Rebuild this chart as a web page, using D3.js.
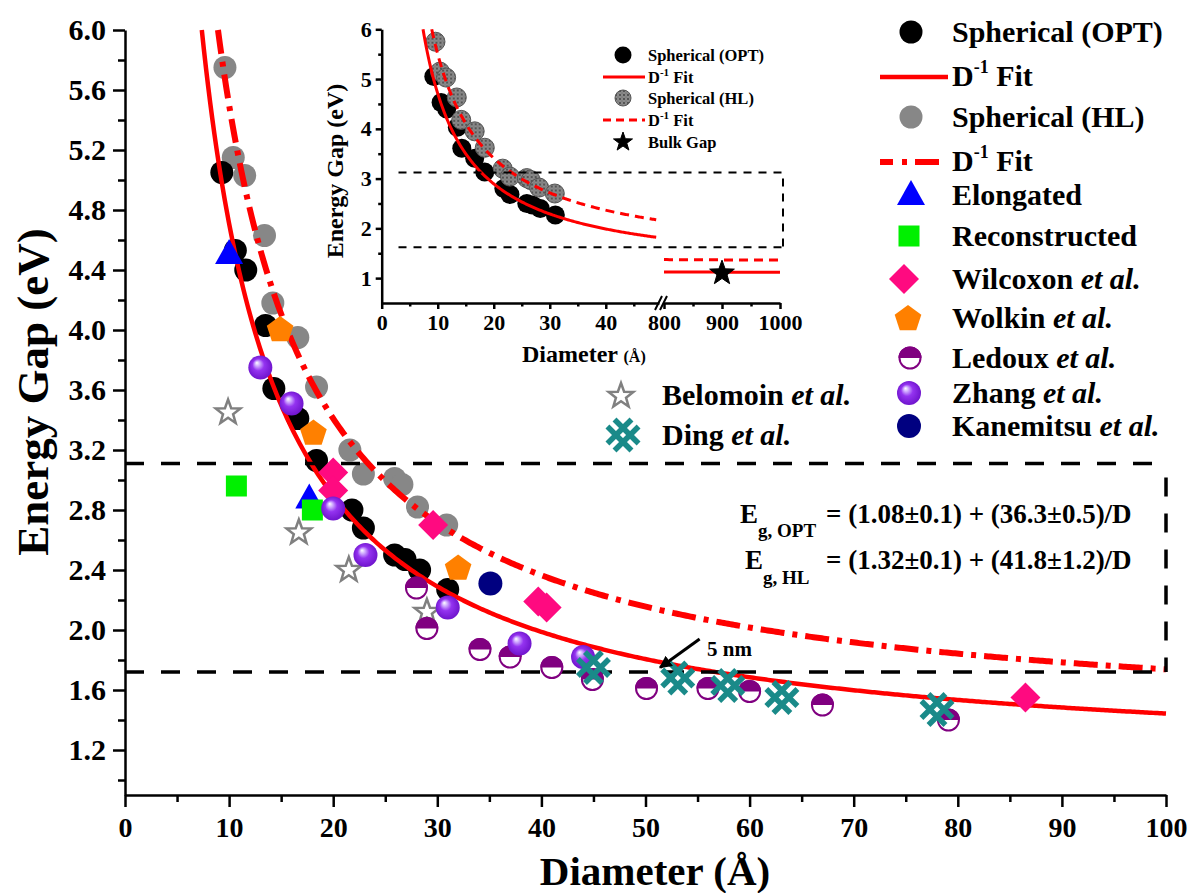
<!DOCTYPE html>
<html><head><meta charset="utf-8">
<script src="https://cdn.jsdelivr.net/npm/d3@7"></script>
<style>
body{margin:0;background:#fff}
text{font-family:"Liberation Serif","Times New Roman",Times,serif;font-weight:bold;fill:#000}
</style>
</head><body>
<svg id="c" width="1199" height="893"></svg>
<script>
// ---------------- DATA ----------------
const optD = [9.3,10.6,11.6,13.5,14.3,16.6,18.4,21.8,22.9,25.9,26.9,28.3,31.0];
const optE = [5.05,4.53,4.40,4.03,3.61,3.41,3.13,2.80,2.68,2.50,2.47,2.40,2.27];
const hlD  = [9.6,10.4,11.5,13.4,14.2,16.6,18.4,21.6,22.9,25.9,26.6,28.1,30.9];
const hlE  = [5.75,5.15,5.03,4.63,4.18,3.95,3.62,3.20,3.04,3.01,2.97,2.82,2.70];
const elongD = [10.0,17.7],  elongE = [4.50,2.87];
const reconD = [10.7,18.0],  reconE = [2.96,2.80];
const wilcD  = [20.0,20.0,29.6,39.7,40.5,86.5], wilcE = [3.05,2.93,2.70,2.19,2.15,1.55];
const wolkD  = [14.9,18.1,32.0], wolkE = [4.00,3.31,2.41];
const ledD   = [28.0,29.0,34.1,37.0,41.0,44.9,50.1,56.0,60.0,67.0,79.1];
const ledE   = [2.28,2.01,1.87,1.82,1.75,1.67,1.61,1.61,1.59,1.50,1.40];
const zhangD = [13.0,16.0,20.0,23.1,31.0,37.9,44.0], zhangE = [3.75,3.51,2.81,2.50,2.15,1.91,1.82];
const kaneD  = [35.1], kaneE = [2.31];
const belD   = [9.9,16.7,21.5,29.0], belE = [3.45,2.65,2.40,2.12];
const dingD  = [45.0,53.1,57.9,63.1,78.0], dingE = [1.75,1.68,1.63,1.55,1.47];
const bulkD  = [900], bulkE = [1.10];
const fitOPT = {a:1.08, b:36.3};   // Eg,OPT = a + b/D
const fitHL  = {a:1.32, b:41.8};   // Eg,HL  = a + b/D
const boxE = [1.72, 3.11];
const insetBoxE = [1.62, 3.12];
const insetBoxD = [3, 1000];
const arrowFrom = [55.2, 1.94], arrowTo = [51.4, 1.75];
const yMajor = [1.2,1.6,2.0,2.4,2.8,3.2,3.6,4.0,4.4,4.8,5.2,5.6,6.0];
const yMinor = [1.0,1.4,1.8,2.2,2.6,3.0,3.4,3.8,4.2,4.6,5.0,5.4,5.8];
const xMajor = [0,10,20,30,40,50,60,70,80,90,100];
const xMinor = [5,15,25,35,45,55,65,75,85,95];
const iyMajor = [1,2,3,4,5,6], iyMinor = [1.5,2.5,3.5,4.5,5.5];
const ixMajorL = [0,10,20,30,40], ixMinorL = [5,15,25,35,45];
const ixMajorR = [800,900,1000], ixMinorR = [850,950];

// ---------------- SETUP ----------------
const svg = d3.select('#c');
const F = '"Liberation Serif","Times New Roman",Times,serif';
const x = d3.scaleLinear().domain([0,100]).range([125,1166]);
const y = d3.scaleLinear().domain([0.9,6.0]).range([795,30]);

const defs = svg.append('defs');
const rg = defs.append('radialGradient').attr('id','ball')
  .attr('cx','50%').attr('cy','50%').attr('r','55%').attr('fx','35%').attr('fy','30%');
[['0%','#ffffff'],['18%','#d2b0ff'],['45%','#9433f0'],['100%','#6a10c8']].forEach(s=>
  rg.append('stop').attr('offset',s[0]).attr('stop-color',s[1]));
const pat = defs.append('pattern').attr('id','speck').attr('width',4).attr('height',4)
  .attr('patternUnits','userSpaceOnUse');
pat.append('rect').attr('width',4).attr('height',4).attr('fill','#8a8a8a');
pat.append('circle').attr('cx',1).attr('cy',1).attr('r',0.9).attr('fill','#3a3a3a');
pat.append('circle').attr('cx',3).attr('cy',3).attr('r',0.6).attr('fill','#626262');
defs.append('marker').attr('id','ah').attr('viewBox','0 0 10 10').attr('refX',9).attr('refY',5)
  .attr('markerWidth',4.2).attr('markerHeight',4.2).attr('orient','auto').attr('markerUnits','strokeWidth')
  .append('path').attr('d','M0,0L10,5L0,10Z').attr('fill','#000');

function styleAxis(g, fs){
  g.attr('font-family',null);
  g.select('path.domain').attr('stroke','#000').attr('stroke-width',2.5);
  g.selectAll('.tick line').attr('stroke','#000').attr('stroke-width',2.5);
  g.selectAll('.tick text').style('font-family',F).style('font-weight','bold')
    .style('font-size',fs+'px').attr('fill','#000');
}

// ---------------- SYMBOLS ----------------
const S = {
  circle:(g,r,fill)=>g.append('circle').attr('r',r).attr('fill',fill),
  speck:(g,r)=>g.append('circle').attr('r',r).attr('fill','url(#speck)').attr('stroke','#555').attr('stroke-width',1),
  tri:(g)=>g.append('path').attr('d','M0,-16L14,9L-14,9Z').attr('fill','#0000ff'),
  square:(g)=>g.append('rect').attr('x',-10.5).attr('y',-10.5).attr('width',21).attr('height',21).attr('fill','#00f000'),
  diamond:(g)=>g.append('path').attr('d','M0,-15L15,0L0,15L-15,0Z').attr('fill','#ff0a80'),
  pent:(g)=>g.append('path').attr('d', d3.range(5).map(k=>{const a=(-90+72*k)*Math.PI/180;return (k?'L':'M')+(14*Math.cos(a)).toFixed(2)+','+(14*Math.sin(a)).toFixed(2);}).join('')+'Z').attr('fill','#ff8000'),
  ledoux:(g)=>{g.append('circle').attr('r',10.5).attr('fill','#fff').attr('stroke','#800080').attr('stroke-width',2);
               g.append('path').attr('d','M-11.5,0A11.5,11.5 0 0 1 11.5,0Z').attr('fill','#800080');},
  zhang:(g)=>g.append('circle').attr('r',12).attr('fill','url(#ball)'),
  star:(g,R,r,fill,stroke,sw)=>g.append('path').attr('d', d3.range(10).map(k=>{const a=(-90+36*k)*Math.PI/180, rr=k%2?r:R;return (k?'L':'M')+(rr*Math.cos(a)).toFixed(2)+','+(rr*Math.sin(a)).toFixed(2);}).join('')+'Z')
      .attr('fill',fill).attr('stroke',stroke).attr('stroke-width',sw).attr('stroke-linejoin','miter'),
  ding:(g)=>{const L=17,d=5,c='#1a8a89';
    [[1,1],[1,-1]].forEach(([ux,uy])=>{const n=Math.SQRT1_2; const dx=ux*n, dy=uy*n; const px=-dy, py=dx;
      [-d,d].forEach(o=>g.append('line').attr('x1',-dx*L+px*o).attr('y1',-dy*L+py*o).attr('x2',dx*L+px*o).attr('y2',dy*L+py*o)
        .attr('stroke',c).attr('stroke-width',5.5));});}
};

function plot(layer, Ds, Es, sx, sy, draw){
  layer.append('g').selectAll('g').data(d3.zip(Ds,Es)).join('g')
    .attr('transform',d=>`translate(${sx(d[0])},${sy(d[1])})`)
    .each(function(){ draw(d3.select(this)); });
}

// ---------------- MAIN AXES ----------------
const gm = svg.append('g');
styleAxis(gm.append('g').attr('transform','translate(125,0)')
  .call(d3.axisLeft(y).tickValues(yMajor).tickSize(12).tickPadding(7).tickSizeOuter(0).tickFormat(d3.format('.1f'))), 30);
styleAxis(gm.append('g').attr('class','minor').attr('transform','translate(125,0)')
  .call(d3.axisLeft(y).tickValues(yMinor).tickSize(7).tickSizeOuter(0).tickFormat('')), 30);
styleAxis(gm.append('g').attr('transform','translate(0,795)')
  .call(d3.axisBottom(x).tickValues(xMajor).tickSize(12).tickPadding(10).tickSizeOuter(0).tickFormat(d3.format('d'))), 28);
styleAxis(gm.append('g').attr('class','minor').attr('transform','translate(0,795)')
  .call(d3.axisBottom(x).tickValues(xMinor).tickSize(7).tickSizeOuter(0).tickFormat('')), 28);
gm.selectAll('g.minor path.domain').remove();

svg.append('text').attr('transform','translate(32,392) rotate(-90)').attr('text-anchor','middle')
  .attr('dy','0.35em').attr('font-size',45).text('Energy Gap (eV)');
svg.append('text').attr('x',655).attr('y',885).attr('text-anchor','middle').attr('font-size',41).text('Diameter (Å)');

// ---------------- MAIN DATA ----------------
const pl = svg.append('g');
plot(pl, hlD, hlE, x, y, g=>S.circle(g,11.5,'#878787'));
plot(pl, optD, optE, x, y, g=>S.circle(g,11.5,'#000'));

function fitPts(f, d0, d1, step){ const start=Math.max(d0, f.b/(6-f.a)); const arr=d3.range(start, d1, step); arr.push(d1); return arr.map(d=>[d, f.a+f.b/d]); }
const lineM = d3.line().x(d=>x(d[0])).y(d=>y(d[1]));
pl.append('path').attr('d',lineM(fitPts(fitOPT,0,100,0.2))).attr('fill','none').attr('stroke','#f00').attr('stroke-width',4.5);
pl.append('path').attr('d',lineM(fitPts(fitHL,0,100,0.2))).attr('fill','none').attr('stroke','#f00').attr('stroke-width',6)
  .attr('stroke-dasharray','24,8,5,8');

// dashed box
const bx = pl.append('g').attr('stroke','#000').attr('stroke-width',3.5).attr('stroke-dasharray','19,17').attr('fill','none');
bx.append('line').attr('x1',x(0)).attr('x2',x(100)).attr('y1',y(boxE[1])).attr('y2',y(boxE[1]));
bx.append('line').attr('x1',x(0)).attr('x2',x(100)).attr('y1',y(boxE[0])).attr('y2',y(boxE[0]));
bx.append('line').attr('x1',x(100)).attr('x2',x(100)).attr('y1',y(boxE[1])+14).attr('y2',y(boxE[0]));

plot(pl, belD, belE, x, y, g=>S.star(g,13,5.3,'#fff','#808080',2.5));
plot(pl, elongD, elongE, x, y, g=>S.tri(g));
plot(pl, reconD, reconE, x, y, g=>S.square(g));
plot(pl, wolkD, wolkE, x, y, g=>S.pent(g));
plot(pl, wilcD, wilcE, x, y, g=>S.diamond(g));
plot(pl, ledD, ledE, x, y, g=>S.ledoux(g));
plot(pl, zhangD, zhangE, x, y, g=>S.zhang(g));
plot(pl, kaneD, kaneE, x, y, g=>S.circle(g,12,'#000080'));
plot(pl, dingD, dingE, x, y, g=>S.ding(g));

// arrow + 5 nm
pl.append('line').attr('x1',x(arrowFrom[0])).attr('y1',y(arrowFrom[1])).attr('x2',x(arrowTo[0])).attr('y2',y(arrowTo[1]))
  .attr('stroke','#000').attr('stroke-width',3).attr('marker-end','url(#ah)');
svg.append('text').attr('x',707).attr('y',656).attr('font-size',21).text('5 nm');

// equations
const eq1 = svg.append('text').attr('x',740).attr('y',523).attr('font-size',27);
eq1.append('tspan').text('E');
eq1.append('tspan').attr('font-size',19).attr('dy',14).text('g, OPT');
eq1.append('tspan').attr('x',826).attr('dy',-14).text('= (1.08±0.1) + (36.3±0.5)/D');
const eq2 = svg.append('text').attr('x',745).attr('y',569).attr('font-size',27);
eq2.append('tspan').text('E');
eq2.append('tspan').attr('font-size',19).attr('dy',15).text('g, HL');
eq2.append('tspan').attr('x',826).attr('dy',-15).text('= (1.32±0.1) + (41.8±1.2)/D');

// ---------------- LEGEND (main) ----------------
const lg = svg.append('g');
const LX = 911, TX = 952, FS = 30;
function legText(yc, parts){
  const t = lg.append('text').attr('x',TX).attr('y',yc+10).attr('font-size',FS);
  parts.forEach(p=>{ const s=t.append('tspan').text(p.t); if(p.i) s.attr('font-style','italic');
    if(p.sup){ s.attr('font-size',18).attr('dy',-13);} if(p.down){ s.attr('dy',13);} });
}
function sub(g,cx,cy){ return g.append('g').attr('transform',`translate(${cx},${cy})`); }
S.circle(sub(lg,LX,32),11.5,'#000'); legText(32,[{t:'Spherical (OPT)'}]);
lg.append('line').attr('x1',880).attr('x2',948).attr('y1',77).attr('y2',77).attr('stroke','#f00').attr('stroke-width',4.5);
legText(76,[{t:'D'},{t:'-1',sup:true},{t:' Fit',down:true}]);
S.circle(sub(lg,LX,117),11.5,'#878787'); legText(117,[{t:'Spherical (HL)'}]);
lg.append('line').attr('x1',880).attr('x2',942).attr('y1',162).attr('y2',162).attr('stroke','#f00').attr('stroke-width',6)
  .attr('stroke-dasharray','13,9,5,8,24');
legText(161,[{t:'D'},{t:'-1',sup:true},{t:' Fit',down:true}]);
S.tri(sub(lg,LX,196)); legText(195,[{t:'Elongated'}]);
S.square(sub(lg,909,236)); legText(236,[{t:'Reconstructed'}]);
S.diamond(sub(lg,904,279)); legText(279,[{t:'Wilcoxon '},{t:'et al.',i:true}]);
S.pent(sub(lg,908,319)); legText(318,[{t:'Wolkin '},{t:'et al.',i:true}]);
S.ledoux(sub(lg,910,358)); legText(358,[{t:'Ledoux '},{t:'et al.',i:true}]);
S.zhang(sub(lg,909,393)); legText(393,[{t:'Zhang '},{t:'et al.',i:true}]);
S.circle(sub(lg,909,426),12,'#000080'); legText(426,[{t:'Kanemitsu '},{t:'et al.',i:true}]);

// second legend
S.star(sub(lg,621,396),13,5.3,'#fff','#808080',2.5);
lg.append('text').attr('x',662).attr('y',405).attr('font-size',FS).call(t=>{t.append('tspan').text('Belomoin ');t.append('tspan').attr('font-style','italic').text('et al.');});
S.ding(sub(lg,623,435));
lg.append('text').attr('x',662).attr('y',445).attr('font-size',FS).call(t=>{t.append('tspan').text('Ding ');t.append('tspan').attr('font-style','italic').text('et al.');});

// ---------------- INSET ----------------
const gi = svg.append('g');
const xi1 = d3.scaleLinear().domain([0,49.5]).range([381.7,659]);
const xi2 = d3.scaleLinear().domain([800,1000]).range([664,780]);
const yi = d3.scaleLinear().domain([0.5,6]).range([303,29.3]);
const fd = d3.format('d');
styleAxis(gi.append('g').attr('transform','translate(381.7,0)')
  .call(d3.axisLeft(yi).tickValues(iyMajor).tickSize(6).tickPadding(4).tickSizeOuter(0).tickFormat(fd)), 22);
styleAxis(gi.append('g').attr('class','minor').attr('transform','translate(381.7,0)')
  .call(d3.axisLeft(yi).tickValues(iyMinor).tickSize(3.5).tickSizeOuter(0).tickFormat('')), 22);
styleAxis(gi.append('g').attr('transform','translate(0,303)')
  .call(d3.axisBottom(xi1).tickValues(ixMajorL).tickSize(6).tickPadding(5).tickSizeOuter(0).tickFormat(fd)), 22);
styleAxis(gi.append('g').attr('class','minor').attr('transform','translate(0,303)')
  .call(d3.axisBottom(xi1).tickValues(ixMinorL).tickSize(3.5).tickSizeOuter(0).tickFormat('')), 22);
styleAxis(gi.append('g').attr('transform','translate(0,303)')
  .call(d3.axisBottom(xi2).tickValues(ixMajorR).tickSize(6).tickPadding(5).tickSizeOuter(0).tickFormat(fd)), 22);
styleAxis(gi.append('g').attr('class','minor').attr('transform','translate(0,303)')
  .call(d3.axisBottom(xi2).tickValues(ixMinorR).tickSize(3.5).tickSizeOuter(0).tickFormat('')), 22);
gi.selectAll('g.minor path.domain').remove();
// axis break marks
gi.append('path').attr('d','M655,310L662,296M660,310L667,296').attr('stroke','#000').attr('stroke-width',2);

gi.append('text').attr('transform','translate(335,171) rotate(-90)').attr('text-anchor','middle').attr('dy','0.35em')
  .attr('font-size',24).text('Energy Gap (eV)');
gi.append('text').attr('x',522).attr('y',362).attr('font-size',24)
  .call(t=>{t.append('tspan').text('Diameter ');t.append('tspan').attr('font-size',16).text('(Å)');});

plot(gi, optD, optE, xi1, yi, g=>S.circle(g,9.5,'#000'));
plot(gi, hlD, hlE, xi1, yi, g=>S.speck(g,9.5));
const lineL = d3.line().x(d=>xi1(d[0])).y(d=>yi(d[1]));
const lineR = d3.line().x(d=>xi2(d[0])).y(d=>yi(d[1]));
gi.append('path').attr('d',lineL(fitPts(fitOPT,0,49,0.2))).attr('fill','none').attr('stroke','#f00').attr('stroke-width',3);
gi.append('path').attr('d',lineL(fitPts(fitHL,0,49,0.2))).attr('fill','none').attr('stroke','#f00').attr('stroke-width',3).attr('stroke-dasharray','9,6');
gi.append('path').attr('d',lineR(fitPts(fitOPT,800,1000,5))).attr('fill','none').attr('stroke','#f00').attr('stroke-width',3);
gi.append('path').attr('d',lineR(fitPts(fitHL,800,1000,5))).attr('fill','none').attr('stroke','#f00').attr('stroke-width',3).attr('stroke-dasharray','9,6');
const ib = gi.append('g').attr('stroke','#000').attr('stroke-width',2).attr('stroke-dasharray','8,7').attr('fill','none');
ib.append('line').attr('x1',xi1(insetBoxD[0])).attr('x2',783).attr('y1',yi(insetBoxE[1])).attr('y2',yi(insetBoxE[1]));
ib.append('line').attr('x1',xi1(insetBoxD[0])).attr('x2',783).attr('y1',yi(insetBoxE[0])).attr('y2',yi(insetBoxE[0]));
ib.append('line').attr('x1',783).attr('x2',783).attr('y1',yi(insetBoxE[1])+6).attr('y2',yi(insetBoxE[0]));
plot(gi, bulkD, bulkE, xi2, yi, g=>S.star(g,13,5.3,'#000','#000',1));

// inset legend
const il = gi.append('g'); const IF = 16.5;
S.circle(sub(il,623,55),8.5,'#000');
il.append('text').attr('x',648).attr('y',61).attr('font-size',IF).text('Spherical (OPT)');
il.append('line').attr('x1',603).attr('x2',645).attr('y1',77).attr('y2',77).attr('stroke','#f00').attr('stroke-width',3);
il.append('text').attr('x',648).attr('y',83).attr('font-size',IF).call(t=>{t.append('tspan').text('D');t.append('tspan').attr('font-size',11).attr('dy',-7).text('-1');t.append('tspan').attr('dy',7).text(' Fit');});
S.speck(sub(il,623,98),8);
il.append('text').attr('x',648).attr('y',104).attr('font-size',IF).text('Spherical (HL)');
il.append('line').attr('x1',603).attr('x2',645).attr('y1',120).attr('y2',120).attr('stroke','#f00').attr('stroke-width',3).attr('stroke-dasharray','8,5');
il.append('text').attr('x',648).attr('y',126).attr('font-size',IF).call(t=>{t.append('tspan').text('D');t.append('tspan').attr('font-size',11).attr('dy',-7).text('-1');t.append('tspan').attr('dy',7).text(' Fit');});
S.star(sub(il,623,142),10,4,'#000','#000',1);
il.append('text').attr('x',648).attr('y',148).attr('font-size',IF).text('Bulk Gap');
</script>
</body></html>
